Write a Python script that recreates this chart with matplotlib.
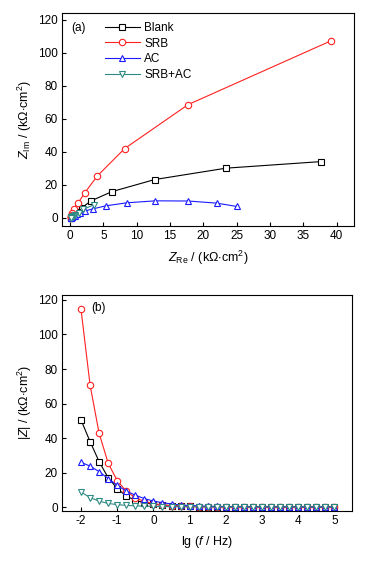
import matplotlib
matplotlib.use("Agg")
import matplotlib.pyplot as plt

plt.rcParams['font.family'] = ['Liberation Sans', 'DejaVu Sans']
plt.rcParams['mathtext.fontset'] = 'custom'
plt.rcParams['mathtext.rm'] = 'Liberation Sans'
plt.rcParams['mathtext.it'] = 'Liberation Sans:italic'
plt.rcParams['font.size'] = 8.5

# ==========================
# Data (Nyquist, kOhm cm2)
# ==========================
blank_re = [37.7, 23.4, 12.7, 6.3, 3.1, 1.8, 1.1, 0.75, 0.5, 0.35, 0.25, 0.18, 0.14, 0.12]
blank_im = [34.2, 30.2, 23.3, 16.0, 10.3, 6.2, 3.8, 2.5, 1.7, 1.2, 0.85, 0.55, 0.35, 0.2]
srb_re = [39.2, 17.7, 8.2, 4.1, 2.2, 1.2, 0.55, 0.35, 0.25, 0.18, 0.14, 0.12, 0.1]
srb_im = [107.5, 68.7, 42.1, 25.5, 15.2, 9.0, 5.3, 3.2, 1.9, 1.2, 0.8, 0.5, 0.3]
ac_re = [25.0, 22.0, 17.7, 12.8, 8.5, 5.4, 3.4, 2.2, 1.5, 1.0, 0.7, 0.5, 0.35, 0.25, 0.18, 0.14]
ac_im = [7.0, 9.0, 10.3, 10.4, 9.2, 7.4, 5.5, 4.2, 3.0, 2.2, 1.5, 1.0, 0.7, 0.45, 0.3, 0.2]
srbac_re = [3.6, 2.0, 1.3, 0.8, 0.55, 0.4, 0.3, 0.22, 0.17, 0.14]
srbac_im = [8.0, 5.3, 3.2, 2.0, 1.35, 0.95, 0.65, 0.45, 0.3, 0.2]

# ==========================
# Data (Bode |Z|)
# ==========================
lg_f = [-2.0, -1.75, -1.5, -1.25, -1.0, -0.75, -0.5, -0.25, 0.0, 0.25, 0.5, 0.75,
        1.0, 1.25, 1.5, 1.75, 2.0, 2.25, 2.5, 2.75, 3.0, 3.25, 3.5, 3.75, 4.0,
        4.25, 4.5, 4.75, 5.0]
blank_z = [50.5, 38.0, 26.4, 17.1, 10.8, 6.5, 4.0, 2.6, 1.8, 1.3, 0.9, 0.65, 0.5, 0.4,
           0.33, 0.28, 0.25, 0.22, 0.2, 0.19, 0.18, 0.17, 0.17, 0.16, 0.16, 0.16, 0.15, 0.15, 0.15]
srb_z = [114.5, 70.8, 42.8, 25.5, 15.4, 9.3, 5.5, 3.3, 2.0, 1.3, 0.9, 0.65, 0.5, 0.4,
         0.33, 0.28, 0.25, 0.22, 0.2, 0.19, 0.18, 0.17, 0.17, 0.16, 0.16, 0.16, 0.15, 0.15, 0.15]
ac_z = [26.0, 23.8, 20.6, 16.6, 12.7, 9.4, 7.0, 5.0, 3.6, 2.6, 1.9, 1.3, 1.0, 0.8,
        0.6, 0.5, 0.42, 0.36, 0.32, 0.29, 0.27, 0.25, 0.24, 0.23, 0.22, 0.22, 0.21, 0.21, 0.21]
srbac_z = [8.8, 5.6, 3.5, 2.2, 1.5, 1.1, 0.8, 0.6, 0.5, 0.4, 0.35, 0.3, 0.27, 0.25,
           0.23, 0.22, 0.21, 0.2, 0.2, 0.19, 0.19, 0.19, 0.18, 0.18, 0.18, 0.18, 0.18, 0.18, 0.18]

labels = ["Blank", "SRB", "AC", "SRB+AC"]
colors = ["black", "#ff2020", "#1a1aff", "#2e8a84"]
markers = ["s", "o", "^", "v"]
sizes = [4.0, 4.6, 4.8, 4.8]

fig = plt.figure(figsize=(3.9, 5.65), dpi=100)
ax1 = fig.add_axes([0.159, 0.600, 0.749, 0.3775])
ax2 = fig.add_axes([0.159, 0.0961, 0.744, 0.382])

nyq = [(blank_re, blank_im), (srb_re, srb_im), (ac_re, ac_im), (srbac_re, srbac_im)]
for (xr, yi), lab, c, m, s in zip(nyq, labels, colors, markers, sizes):
    ax1.plot(xr, yi, color=c, lw=0.8, marker=m, ms=s, mfc="white", mec=c, mew=0.8, label=lab)

bode = [blank_z, srb_z, ac_z, srbac_z]
for z, c, m, s in zip(bode, colors, markers, sizes):
    ax2.plot(lg_f, z, color=c, lw=0.8, marker=m, ms=s, mfc="white", mec=c, mew=0.8)

ax1.set_xlim(-1.2, 42.6)
ax1.set_ylim(-4.85, 124.4)
ax1.set_xticks(range(0, 41, 5))
ax1.set_yticks(range(0, 121, 20))
ax1.set_xlabel(r"$Z_{\rm Re}$ / (k$\Omega$$\cdot$cm$^2$)", fontsize=9, labelpad=5)
ax1.set_ylabel(r"$Z_{\rm Im}$ / (k$\Omega$$\cdot$cm$^2$)", fontsize=9, labelpad=3)
ax1.text(0.03, 0.955, "(a)", transform=ax1.transAxes, fontsize=8.5, va="top")
ax1.legend(loc="upper left", bbox_to_anchor=(0.12, 0.995), frameon=False, fontsize=8.5,
           handlelength=2.9, handletextpad=0.4, labelspacing=0.3, borderpad=0.2)

ax2.set_xlim(-2.525, 5.49)
ax2.set_ylim(-2.0, 122.9)
ax2.set_xticks(range(-2, 6))
ax2.set_xticklabels([str(v) for v in range(-2, 6)])
ax2.set_yticks(range(0, 121, 20))
ax2.set_xlabel(r"lg ($f$ / Hz)", fontsize=9, labelpad=5)
ax2.set_ylabel(r"$|Z|$ / (k$\Omega$$\cdot$cm$^2$)", fontsize=9, labelpad=3)
ax2.text(0.1, 0.965, "(b)", transform=ax2.transAxes, fontsize=8.5, va="top")

for ax in (ax1, ax2):
    ax.tick_params(direction="in", length=3, width=0.8, labelsize=8.5, pad=3)
    for sp in ax.spines.values():
        sp.set_linewidth(0.8)

fig.savefig("out.png", dpi=100)
